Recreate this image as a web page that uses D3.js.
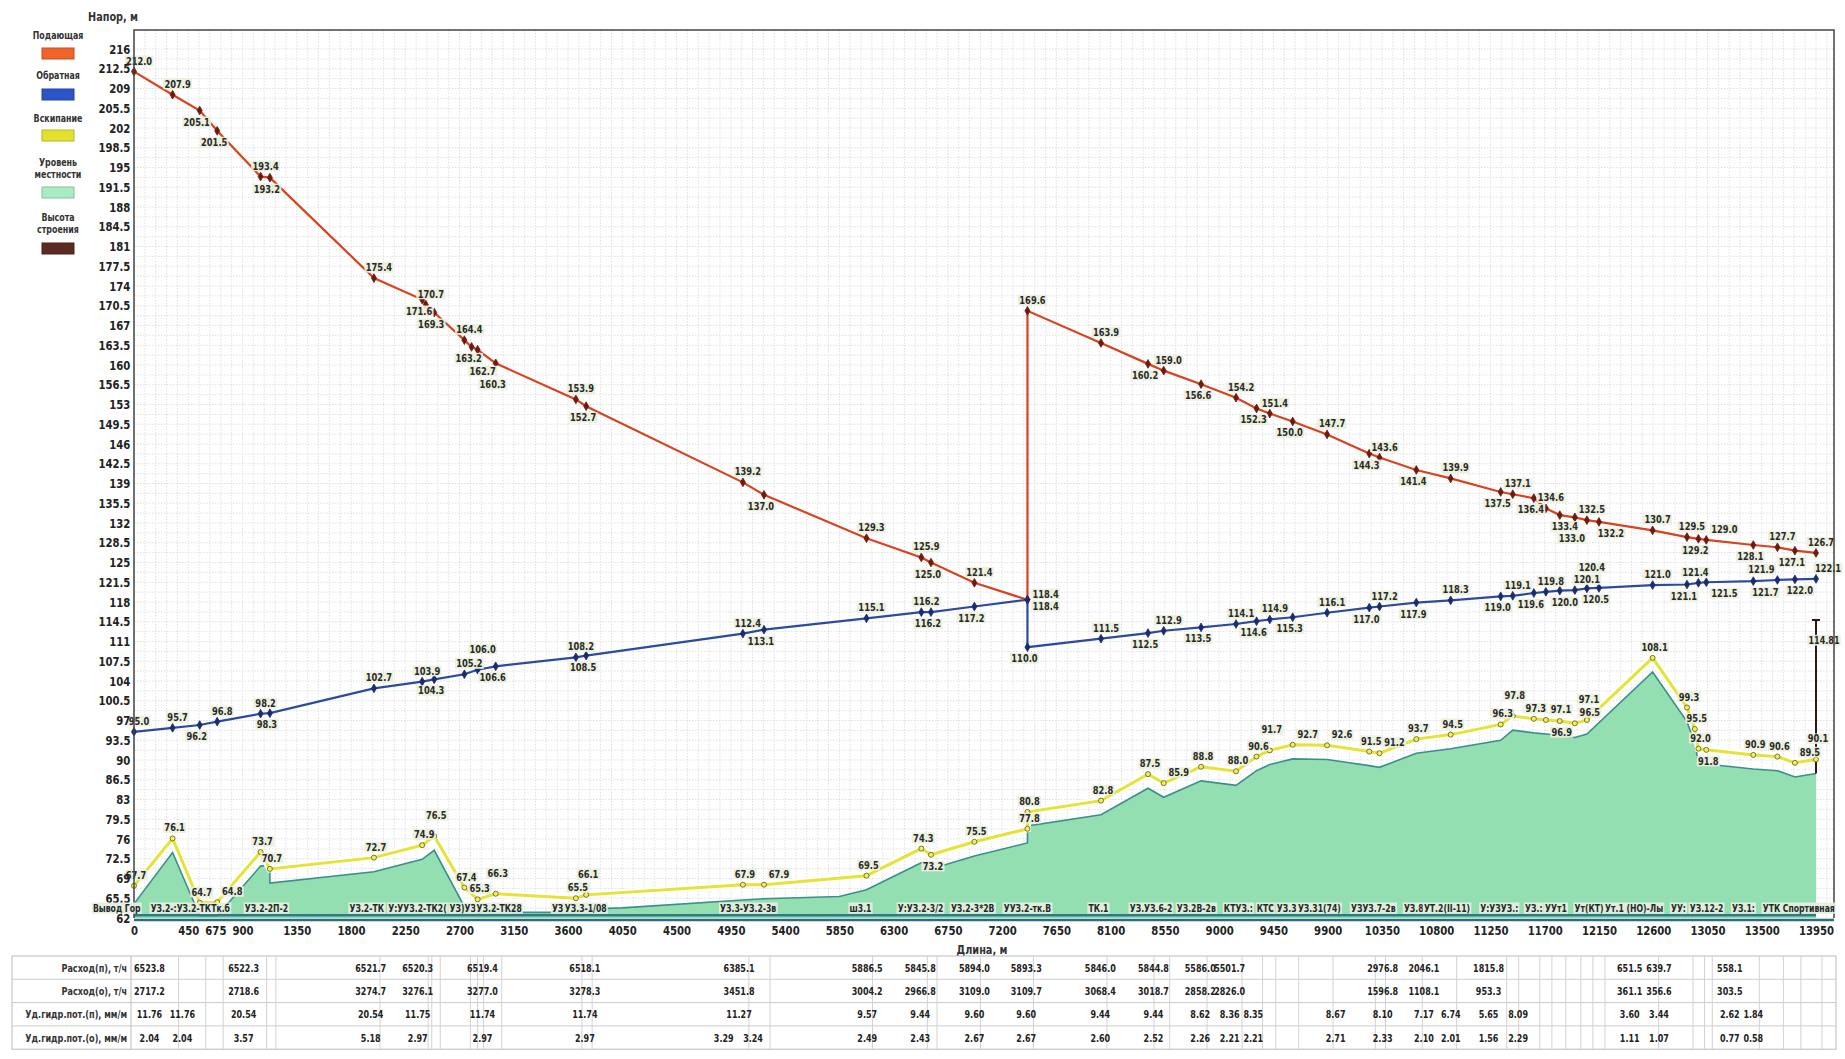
<!DOCTYPE html>
<html><head><meta charset="utf-8">
<script src="https://cdn.jsdelivr.net/npm/d3@7"></script>
<style>
body{margin:0;background:#fff;}
svg text{font-family:"Liberation Sans Narrow","DejaVu Sans Condensed","Liberation Sans",sans-serif;font-weight:bold;}
</style></head><body>
<svg id="c" width="1845" height="1059"></svg>
<script>
// ---------- DATA ----------
const supplyDist = [0,320,545,690,1050,1127,1990,2390,2420,2490,2740,2800,2850,3000,3665,3750,5050,5225,6075,6530,6610,6970,7410,7410,8020,8410,8540,8850,9140,9310,9420,9610,9895,10245,10330,10635,10920,11335,11435,11610,11710,11825,11950,12050,12150,12595,12880,12975,13040,13430,13630,13775,13950];
const supplyHead = [212.0,207.9,205.1,201.5,193.4,193.2,175.4,171.6,170.7,169.3,164.4,163.2,162.7,160.3,153.9,152.7,139.2,137.0,129.3,125.9,125.0,121.4,118.4,169.6,163.9,160.2,159.0,156.6,154.2,152.3,151.4,150.0,147.7,144.3,143.6,141.4,139.9,137.5,137.1,136.4,134.6,133.4,133.0,132.5,132.2,130.7,129.5,129.2,129.0,128.1,127.7,127.1,126.7];

const returnDist = [0,320,545,690,1050,1127,1990,2390,2490,2740,2850,3000,3665,3750,5050,5225,6075,6530,6610,6970,7410,7410,8020,8410,8540,8850,9140,9310,9420,9610,9895,10245,10330,10635,10920,11335,11435,11610,11710,11825,11950,12050,12150,12595,12880,12975,13040,13430,13630,13775,13950];
const returnHead = [95.0,95.7,96.2,96.8,98.2,98.3,102.7,103.9,104.3,105.2,106.0,106.6,108.2,108.5,112.4,113.1,115.1,116.2,116.2,117.2,118.4,110.0,111.5,112.5,112.9,113.5,114.1,114.6,114.9,115.3,116.1,117.0,117.2,117.9,118.3,119.0,119.1,119.6,119.8,120.0,120.1,120.4,120.5,121.0,121.1,121.4,121.5,121.7,121.9,122.0,122.1];

const boilDist = [0,320,545,690,1050,1127,1990,2390,2490,2740,2850,3000,3665,3750,5050,5225,6075,6530,6610,6970,7410,7410,8020,8410,8540,8850,9140,9310,9420,9610,9895,10245,10330,10635,10920,11335,11435,11610,11710,11825,11950,12050,12595,12880,12945,12975,13040,13430,13630,13775,13950];
const boilHead = [67.7,76.1,64.7,64.8,73.7,70.7,72.7,74.9,76.5,67.4,65.3,66.3,65.5,66.1,67.9,67.9,69.5,74.3,73.2,75.5,77.8,80.8,82.8,87.5,85.9,88.8,88.0,90.6,91.7,92.7,92.6,91.5,91.2,93.7,94.5,96.3,97.8,97.3,97.1,96.9,96.5,97.1,108.1,99.3,95.5,92.0,91.8,90.9,90.6,89.5,90.1];

const groundDist = [0,320,545,690,1050,1127,1127,1990,2390,2490,2740,2850,3000,3150,3665,3750,4050,5050,5225,5850,6075,6530,6610,6970,7410,7410,8020,8410,8540,8850,9140,9310,9420,9610,9895,10245,10330,10635,10920,11335,11435,11610,11710,11825,11950,12050,12595,12880,12945,12975,13040,13430,13630,13775,13950];
const groundLevel = [64.5,73.6,62.4,62.4,71.2,71.4,68.2,70.2,72.4,74.0,64.0,62.8,63.8,63.0,63.0,63.6,63.8,65.2,65.4,65.8,67.0,71.8,70.7,73.0,75.3,78.3,80.3,85.0,83.4,86.3,85.5,88.1,89.2,90.2,90.1,89.0,88.7,91.2,92.0,93.5,95.3,94.8,94.6,94.4,94.0,94.6,105.6,96.8,93.0,89.5,89.3,88.4,88.1,87.0,87.6];

const buildingDist = [13950];
const buildingTop = [114.81];

const yTickValues = d3.range(0,45).map(k => 216 - 3.5*k);
const xTickValues = [0,450,675,900,1350,1800,2250,2700,3150,3600,4050,4500,4950,5400,5850,6300,6750,7200,7650,8100,8550,9000,9450,9900,10350,10800,11250,11700,12150,12600,13050,13500,13950];

const nodeNameDist = [-341,138,919,1787,2109,2617,2841,3466,3573,4861,5935,6335,6775,7213,7917,8258,8648,9039,9312,9478,9653,10093,10532,10698,11166,11537,11703,11947,12201,12747,12903,13254,13508,13674];
const nodeNames = ["Вывод Гор","УЗ.2-:УЗ.2-ТКТк.б","УЗ.2-2П-2","УЗ.2-ТК","У:УУЗ.2-ТК2(","УЗ)УЗ","УЗ.2-ТК28","УЗ","УЗ.3-1/08","УЗ.3-УЗ.2-3в","ш3.1","У:УЗ.2-3/2","УЗ.2-3*2В","УУЗ.2-тк.В","ТК.1","УЗ.УЗ.6-2","УЗ.2В-2в","КТУЗ.:","КТС","УЗ.3","УЗ.31(74)","УЗУЗ.7-2в","УЗ.8","УТ.2(II-11)","У:УЗУЗ.:","УЗ.:","УУт1","Ут(КТ)","Ут.1 (НО)-Лы","УУ:","УЗ.12-2","УЗ.1:","УТК","Спортивная"];

const tableDist = [128,401,909,1963,2353,2890,3739,4891,5018,5134,6081,6521,6970,7400,8014,8455,8843,9087,9283,9966,10356,10698,10921,11234,11479,12405,12648,13235,13430];
const flowSupply = [6523.8,null,6522.3,6521.7,6520.3,6519.4,6518.1,null,6385.1,null,5886.5,5845.8,5894.0,5893.3,5846.0,5844.8,5586.0,5501.7,null,null,2976.8,2046.1,null,1815.8,null,651.5,639.7,558.1,null];
const flowReturn = [2717.2,null,2718.6,3274.7,3276.1,3277.0,3278.3,null,3451.8,null,3004.2,2966.8,3109.0,3109.7,3068.4,3018.7,2858.2,2826.0,null,null,1596.8,1108.1,null,953.3,null,361.1,356.6,303.5,null];
const lossSupply = [11.76,11.76,20.54,20.54,11.75,11.74,11.74,null,11.27,null,9.57,9.44,9.60,9.60,9.44,9.44,8.62,8.36,8.35,8.67,8.10,7.17,6.74,5.65,8.09,3.60,3.44,2.62,1.84];
const lossReturn = [2.04,2.04,3.57,5.18,2.97,2.97,2.97,3.29,null,3.24,2.49,2.43,2.67,2.67,2.60,2.52,2.26,2.21,2.21,2.71,2.33,2.10,2.01,1.56,2.29,1.11,1.07,0.77,0.58];
const tableRowNames = ["Расход(п), т/ч","Расход(о), т/ч","Уд.гидр.пот.(п), мм/м","Уд.гидр.пот.(о), мм/м"];

const legendNames = [["Подающая"],["Обратная"],["Вскипание"],["Уровень","местности"],["Высота","строения"]];
const legendColors = ["#f0642a","#2b55c8","#e4e030","#a8ecc2","#5b2a22"];

// label placement (layout only): a = above, b = below, R/r = right of point
const supplySide = "aabbabababababababa" + "aba" + "R" + "aa" + "babababababababa" + "ababaabababa";
const returnSide = "aabaabaabaababab" + "aabb" + "rb" + "ababababababababa" + "abababbabbab";

// ---------- LAYOUT ----------
const svg = d3.select("#c");
const L = 134, R = 1834, T = 30, B = 918;
const x = d3.scaleLinear().domain([0,13950]).range([134,1816]);
const y = d3.scaleLinear().domain([62,216]).range([B,49]);
const f1 = d3.format(".1f"), f2 = d3.format(".2f");
const zip = (a,b) => a.map((d,i)=>[d,b[i]]);

function ctext(parent, px, py, txt, size, anchor, sx, fill, box){
  const gg = parent.append("g").attr("transform",`translate(${px},${py}) scale(${sx},1)`);
  const t = gg.append("text").attr("x",0).attr("y",0).attr("text-anchor",anchor)
    .attr("font-size",size).attr("fill",fill).text(txt);
  if(box){
    const bb = t.node().getBBox();
    gg.insert("rect","text").attr("x",bb.x-1.5).attr("y",bb.y+0.5).attr("width",bb.width+3).attr("height",bb.height-1)
      .attr("fill",box).attr("opacity",0.92);
  }
  return gg;
}

// grid
const grid = svg.append("g");
grid.selectAll("line.h").data(d3.range(62,216.01,1.75)).join("line")
  .attr("x1",L).attr("x2",R).attr("y1",d=>y(d)).attr("y2",d=>y(d))
  .attr("stroke","#d9d9d9").attr("stroke-width",0.8).attr("stroke-dasharray","1.5,1.5");
grid.selectAll("line.v").data(d3.range(0,14100,90)).join("line")
  .attr("x1",d=>x(d)).attr("x2",d=>x(d)).attr("y1",T).attr("y2",B)
  .attr("stroke","#d9d9d9").attr("stroke-width",0.8).attr("stroke-dasharray","1.5,1.5");

// ground area
const ground = zip(groundDist, groundLevel);
svg.append("path").datum(ground)
  .attr("d", d3.area().x(d=>x(d[0])).y0(y(62)).y1(d=>y(d[1])))
  .attr("fill","#93dfb2");
svg.append("path").datum(ground)
  .attr("d", d3.line().x(d=>x(d[0])).y(d=>y(d[1])))
  .attr("fill","none").attr("stroke","#3a8f8c").attr("stroke-width",1.6);
svg.append("line").attr("x1",x(0)).attr("x2",x(13950)).attr("y1",y(62.5)).attr("y2",y(62.5))
  .attr("stroke","#2c7b86").attr("stroke-width",2.5);

// boiling line
const boil = zip(boilDist, boilHead);
const lineGen = d3.line().x(d=>x(d[0])).y(d=>y(d[1]));
svg.append("path").datum(boil).attr("d",lineGen).attr("fill","none").attr("stroke","#fff").attr("stroke-width",7);
svg.append("path").datum(boil).attr("d",lineGen).attr("fill","none").attr("stroke","#e6e236").attr("stroke-width",3);

// supply / return
const supply = zip(supplyDist, supplyHead);
const ret = zip(returnDist, returnHead);
svg.append("path").datum(supply).attr("d",lineGen).attr("fill","none").attr("stroke","#d8431f").attr("stroke-width",2.2);
svg.append("path").datum(ret).attr("d",lineGen).attr("fill","none").attr("stroke","#2d4b9e").attr("stroke-width",2.2);

// building
const bld = zip(buildingDist, buildingTop);
svg.selectAll("line.bld").data(bld).join("line")
  .attr("x1",d=>x(d[0])).attr("x2",d=>x(d[0])).attr("y1",y(groundLevel[groundLevel.length-1])).attr("y2",d=>y(d[1]))
  .attr("stroke","#2a1a16").attr("stroke-width",2);
svg.selectAll("line.bldcap").data(bld).join("line")
  .attr("x1",d=>x(d[0])-4).attr("x2",d=>x(d[0])+4).attr("y1",d=>y(d[1])).attr("y2",d=>y(d[1]))
  .attr("stroke","#2a1a16").attr("stroke-width",2);

// markers
const diamond = d3.symbol().type(d3.symbolDiamond).size(22);
function markers(data, fill, stroke, sym){
  svg.append("g").selectAll("path").data(data).join("path")
    .attr("transform",d=>`translate(${x(d[0])},${y(d[1])})`)
    .attr("d", sym).attr("fill",fill).attr("stroke",stroke).attr("stroke-width",0.8);
}
markers(supply,"#6e1a0e","#6e1a0e",diamond);
markers(ret,"#1b2c6e","#1b2c6e",diamond);
markers(boil,"#f2ee60","#5a5a10",d3.symbol().type(d3.symbolCircle).size(20));

// value labels with simple collision avoidance
const labelLayer = svg.append("g");
const LBOX = "#eaf0dc";
const placed = [];
function hit(r){
  return placed.some(p => !(r.right < p.left || r.left > p.right || r.bottom < p.top || r.top > p.bottom));
}
function smartLabel(px, py, txt, cands){
  let chosen = null;
  for(const c of cands){
    const g = ctext(labelLayer, px+c[0], py+c[1], txt, 10.5, c[2], 0.88, "#2a2a2a", LBOX);
    const r = g.node().getBoundingClientRect();
    if(!hit(r) && r.right < 1843){ chosen = r; break; }
    g.remove();
  }
  if(!chosen){
    const c = cands[0];
    const g = ctext(labelLayer, px+c[0], py+c[1], txt, 10.5, c[2], 0.88, "#2a2a2a", LBOX);
    chosen = g.node().getBoundingClientRect();
  }
  placed.push(chosen);
}
const CA = [[5,-7,"middle"],[5,-17,"middle"],[18,-7,"middle"],[-12,-7,"middle"],[5,15,"middle"],[18,15,"middle"],[-12,15,"middle"],[5,-27,"middle"],[5,25,"middle"],[-14,-17,"middle"],[-14,25,"middle"]];
const CB = [[-3,15,"middle"],[-3,25,"middle"],[-16,15,"middle"],[12,15,"middle"],[-3,-7,"middle"],[-16,-7,"middle"],[12,-7,"middle"],[-3,35,"middle"],[-16,25,"middle"],[-3,-17,"middle"],[12,25,"middle"]];
const CRu = [[5,-2,"start"],[5,-12,"start"],[5,9,"start"]];
const CRd = [[5,10,"start"],[5,21,"start"],[5,-2,"start"]];
function cands(side){ return side==="b"?CB: side==="R"?CRu: side==="r"?CRd: CA; }
supply.forEach((d,i)=> smartLabel(x(d[0]), y(d[1]), f1(d[1]), cands(supplySide[i]||"a")));
ret.forEach((d,i)=> smartLabel(x(d[0]), y(d[1]), f1(d[1]), cands(returnSide[i]||"a")));
boil.forEach(d=> smartLabel(x(d[0])-3, y(d[1]), f1(d[1]), CA));
bld.forEach(d=> ctext(labelLayer, x(d[0])+8, y(d[1])+24, f2(d[1]), 10.5, "middle", 0.85, "#2a2a2a", LBOX));

// frame
svg.append("path").attr("d",`M${L},${B}V${T}H${R}V${B}`).attr("fill","none").attr("stroke","#444").attr("stroke-width",1.5);
svg.append("line").attr("x1",L).attr("x2",R).attr("y1",B+2).attr("y2",B+2).attr("stroke","#2c6f7a").attr("stroke-width",2.5);

// y axis
const yAxis = d3.axisLeft(y).tickValues(yTickValues).tickSize(0).tickPadding(4)
  .tickFormat(d => Number.isInteger(d) ? String(d) : d3.format(".1f")(d));
const ya = svg.append("g").attr("transform",`translate(${L},0)`).call(yAxis);
ya.select(".domain").remove();
ya.selectAll("text").attr("font-size",12.5).attr("fill","#222").attr("transform","scale(0.9,1)")
  .style("font-family",'"Liberation Sans Narrow","DejaVu Sans Condensed",sans-serif').style("font-weight","bold");

// x axis
const xAxis = d3.axisBottom(x).tickValues(xTickValues).tickSize(0).tickPadding(6).tickFormat(d3.format("d"));
const xa = svg.append("g").attr("transform",`translate(0,${B+2})`).call(xAxis);
xa.select(".domain").remove();
xa.selectAll("text").attr("font-size",12.5).attr("fill","#222").attr("transform","scale(0.9,1)")
  .style("font-family",'"Liberation Sans Narrow","DejaVu Sans Condensed",sans-serif').style("font-weight","bold");

// node names
const nameLayer = svg.append("g");
nodeNameDist.forEach((d,i)=>{
  ctext(nameLayer, x(d), 912, nodeNames[i], 11, "start", 0.78, "#1e2a2a", "#e6eede");
});

// axis titles
ctext(svg, 113, 21, "Напор, м", 12, "middle", 0.9, "#333", null);
ctext(svg, 982, 954, "Длина, м", 12, "middle", 0.9, "#333", null);

// legend
const legendY = [35,75,118,162,217];
const swatchY = [48,89,130,187,243];
legendNames.forEach((lines,i)=>{
  lines.forEach((s,j)=>{
    ctext(svg, 58, legendY[i]+4+j*12, s, 10, "middle", 0.88, "#333", null);
  });
  svg.append("rect").attr("x",42).attr("y",swatchY[i]).attr("width",32).attr("height",11)
    .attr("fill",legendColors[i]).attr("stroke",d3.color(legendColors[i]).darker(0.6)).attr("stroke-width",1);
});

// table
const tTop = 956, rowH = 23.3, tLeft = 12, tRight = 1836, labelCol = 131;
const rows = [flowSupply, flowReturn, lossSupply, lossReturn];
const fmts = [f1,f1,f2,f2];
const tb = svg.append("g");
tb.append("rect").attr("x",tLeft).attr("y",tTop).attr("width",tRight-tLeft).attr("height",rowH*4)
  .attr("fill","none").attr("stroke","#bbb");
d3.range(1,4).forEach(k=>{
  tb.append("line").attr("x1",tLeft).attr("x2",tRight).attr("y1",tTop+k*rowH).attr("y2",tTop+k*rowH).attr("stroke","#ccc");
});
tb.append("line").attr("x1",labelCol).attr("x2",labelCol).attr("y1",tTop).attr("y2",tTop+4*rowH).attr("stroke","#bbb");
const sep = Array.from(new Set(supplyDist)).slice(1);
tb.selectAll("line.sep").data(sep).join("line")
  .attr("x1",d=>x(d)+6).attr("x2",d=>x(d)+6).attr("y1",tTop).attr("y2",tTop+4*rowH)
  .attr("stroke","#d2d2d2");
tableRowNames.forEach((n,k)=>{
  ctext(tb, labelCol-4, tTop+k*rowH+rowH/2+4, n, 10, "end", 0.9, "#333", null);
  rows[k].forEach((v,i)=>{
    if(v===null) return;
    ctext(tb, x(tableDist[i]), tTop+k*rowH+rowH/2+4, fmts[k](v), 10.5, "middle", 0.85, "#222", null);
  });
});
</script>
</body></html>
